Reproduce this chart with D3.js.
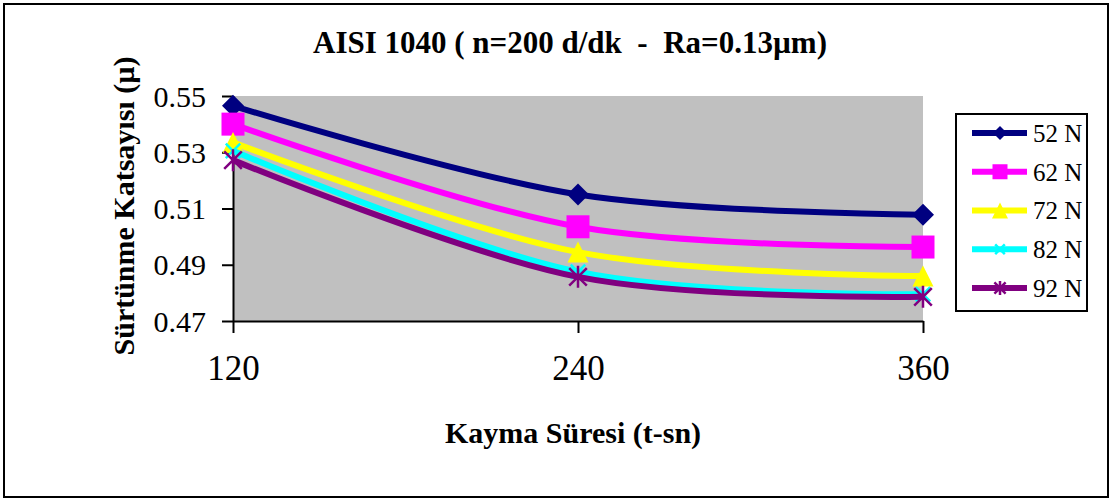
<!DOCTYPE html>
<html>
<head>
<meta charset="utf-8">
<script src="https://cdn.jsdelivr.net/npm/d3@7"></script>
<style>
  html, body { margin: 0; padding: 0; background: #fff; }
  svg { display: block; }
</style>
</head>
<body>
<svg id="chart" width="1115" height="502"></svg>
<script>
// Sliding time (s) on the x axis
const times = [120, 240, 360];
// Friction coefficient for each normal load
const loads = ["52 N", "62 N", "72 N", "82 N", "92 N"];
const mu52 = [0.5465, 0.5150, 0.5078];
const mu62 = [0.5400, 0.5035, 0.4963];
const mu72 = [0.5335, 0.4945, 0.4860];
const mu82 = [0.5305, 0.4875, 0.4795];
const mu92 = [0.5272, 0.4857, 0.4786];
const yTicks = [0.47, 0.49, 0.51, 0.53, 0.55];

const seriesValues = [mu52, mu62, mu72, mu82, mu92];
const colors = ["#000080", "#FF00FF", "#FFFF00", "#00FFFF", "#800080"];
const shapes = ["diamond", "square", "triangle", "cross", "star"];
const serif = "'Liberation Serif', 'Times New Roman', 'DejaVu Serif', serif";

const svg = d3.select("#chart");

// outer frame
svg.append("rect")
  .attr("x", 4).attr("y", 4).attr("width", 1104).attr("height", 493)
  .attr("fill", "#fff").attr("stroke", "#000").attr("stroke-width", 2);

const plot = { left: 233, right: 923, top: 96, bottom: 321 };
const x = d3.scaleLinear().domain([120, 360]).range([plot.left, plot.right]);
const y = d3.scaleLinear().domain([0.47, 0.55]).range([plot.bottom, plot.top]);

// plot area background
svg.append("rect")
  .attr("x", plot.left).attr("y", plot.top)
  .attr("width", plot.right - plot.left).attr("height", plot.bottom - plot.top)
  .attr("fill", "#C0C0C0");

// axes
const yAxis = svg.append("g")
  .attr("transform", `translate(${plot.left},0)`)
  .call(d3.axisLeft(y).tickValues(yTicks).tickFormat(d3.format(".2f")).tickSize(11).tickSizeOuter(0).tickPadding(16));
const xAxis = svg.append("g")
  .attr("transform", `translate(0,${plot.bottom})`)
  .call(d3.axisBottom(x).tickValues(times).tickFormat(d3.format("d")).tickSize(12).tickSizeOuter(0).tickPadding(22));

[yAxis, xAxis].forEach(g => {
  g.attr("font-family", serif);
  g.selectAll("path.domain").attr("stroke", "#000").attr("stroke-width", 2);
  g.selectAll(".tick line").attr("stroke", "#000").attr("stroke-width", 2);
  g.selectAll(".tick text").attr("fill", "#000").attr("font-family", serif);
});
yAxis.selectAll(".tick text").attr("font-size", 30).attr("dy", "0.34em");
xAxis.selectAll(".tick text").attr("font-size", 35);

// marker drawing
function drawMarker(g, shape, color, s) {
  const h = s / 2;
  if (shape === "diamond") {
    g.append("path").attr("d", `M0,${-h}L${h},0L0,${h}L${-h},0Z`).attr("fill", color);
  } else if (shape === "square") {
    g.append("rect").attr("x", -h).attr("y", -h).attr("width", s).attr("height", s).attr("fill", color);
  } else if (shape === "triangle") {
    g.append("path").attr("d", `M0,${-h}L${h},${h}L${-h},${h}Z`).attr("fill", color);
  } else if (shape === "cross") {
    const c = h * 0.8;
    g.append("path").attr("d", `M${-c},${-c}L${c},${c}M${-c},${c}L${c},${-c}`)
      .attr("stroke", color).attr("stroke-width", 2.5).attr("fill", "none");
  } else if (shape === "star") {
    const c = h * 0.8;
    g.append("path").attr("d", `M${-c},${-c}L${c},${c}M${-c},${c}L${c},${-c}M0,${-h}L0,${h}`)
      .attr("stroke", color).attr("stroke-width", 2.5).attr("fill", "none");
  }
}

const markerSizes = [22, 23, 21, 18, 22];
const line = d3.line()
  .x((d, i) => x(times[i]))
  .y(d => y(d))
  .curve(d3.curveCatmullRom.alpha(0));

seriesValues.forEach((vals, si) => {
  const g = svg.append("g");
  g.append("path")
    .datum(vals)
    .attr("d", line)
    .attr("fill", "none")
    .attr("stroke", colors[si])
    .attr("stroke-width", 6)
    .attr("stroke-linejoin", "round");
  vals.forEach((v, i) => {
    const m = g.append("g").attr("transform", `translate(${x(times[i])},${y(v)})`);
    drawMarker(m, shapes[si], colors[si], markerSizes[si]);
  });
});

// title
svg.append("text")
  .attr("x", 570).attr("y", 53)
  .attr("text-anchor", "middle")
  .attr("font-family", serif).attr("font-weight", "bold").attr("font-size", 31)
  .style("white-space", "pre")
  .text("AISI 1040 ( n=200 d/dk  -  Ra=0.13µm)");

// axis titles
svg.append("text")
  .attr("x", 573).attr("y", 443)
  .attr("text-anchor", "middle")
  .attr("font-family", serif).attr("font-weight", "bold").attr("font-size", 30)
  .text("Kayma Süresi (t-sn)");

svg.append("text")
  .attr("transform", "translate(134,206) rotate(-90)")
  .attr("text-anchor", "middle")
  .attr("font-family", serif).attr("font-weight", "bold").attr("font-size", 30)
  .text("Sürtünme Katsayısı (µ)");

// legend
const legend = svg.append("g");
legend.append("rect")
  .attr("x", 956).attr("y", 114).attr("width", 131).attr("height", 197)
  .attr("fill", "#fff").attr("stroke", "#000").attr("stroke-width", 2);
const legendY = d3.scalePoint().domain(loads).range([133, 288]);
const legendMarkerSizes = [14, 15, 16, 12, 14];
loads.forEach((name, si) => {
  const ly = legendY(name);
  legend.append("line")
    .attr("x1", 972).attr("x2", 1027).attr("y1", ly).attr("y2", ly)
    .attr("stroke", colors[si]).attr("stroke-width", 6);
  const m = legend.append("g").attr("transform", `translate(1000,${ly})`);
  drawMarker(m, shapes[si], colors[si], legendMarkerSizes[si]);
  legend.append("text")
    .attr("x", 1033).attr("y", ly).attr("dy", "0.35em")
    .attr("font-family", serif).attr("font-size", 25)
    .text(name);
});
</script>
</body>
</html>
